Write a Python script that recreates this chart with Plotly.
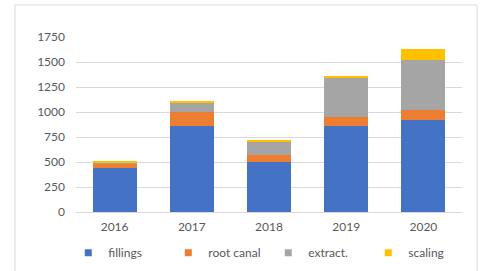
import plotly.graph_objects as go

years = ["2016", "2017", "2018", "2019", "2020"]
fillings = [440, 860, 505, 860, 920]
root_canal = [45, 140, 63, 93, 100]
extract = [5, 90, 136, 393, 498]
scaling = [15, 25, 10, 16, 110]

series = [
    ("fillings", fillings, "#4472C4"),
    ("root canal", root_canal, "#ED7D31"),
    ("extract.", extract, "#A5A5A5"),
    ("scaling", scaling, "#FFC000"),
]

fig = go.Figure()
for name, vals, color in series:
    fig.add_trace(go.Bar(x=years, y=vals, name=name, showlegend=False,
                         marker=dict(color=color, line=dict(width=0))))
# legend entries with small square swatches
for name, vals, color in series:
    fig.add_trace(go.Scatter(x=[None], y=[None], mode="markers", name=name,
                             marker=dict(symbol="square", size=7, color=color)))

font_color = "#595959"
fig.update_layout(
    barmode="stack",
    bargap=0.43,
    width=481,
    height=271,
    margin=dict(l=76, r=19, t=37, b=59, autoexpand=False),
    paper_bgcolor="white",
    plot_bgcolor="white",
    font=dict(family="Lato, sans-serif", size=12, color=font_color),
    yaxis=dict(
        range=[0, 1750],
        tickvals=[0, 250, 500, 750, 1000, 1250, 1500, 1750],
        gridcolor="#D9D9D9",
        gridwidth=1,
        zeroline=False,
        showline=False,
        ticklabelstandoff=10,
    ),
    xaxis=dict(
        showline=True,
        linecolor="#D9D9D9",
        linewidth=1,
        ticklabelstandoff=4,
    ),
    legend=dict(
        orientation="h",
        traceorder="normal",
        x=-0.02,
        xanchor="left",
        y=-0.15,
        yanchor="top",
        entrywidth=55,
        font=dict(size=12, color=font_color),
        itemwidth=30,
        bgcolor="rgba(0,0,0,0)",
    ),
    showlegend=True,
    shapes=[
        dict(
            type="rect",
            xref="paper",
            yref="paper",
            x0=-0.158,
            x1=1.039,
            y0=-0.36,
            y1=1.183,
            line=dict(color="#D9D9D9", width=1),
            fillcolor="rgba(0,0,0,0)",
            layer="below",
        )
    ],
)

fig.write_html(
    "out.html",
    config={"displayModeBar": False},
    post_script="document.body.style.margin='0px';document.body.style.overflow='hidden';",
)
